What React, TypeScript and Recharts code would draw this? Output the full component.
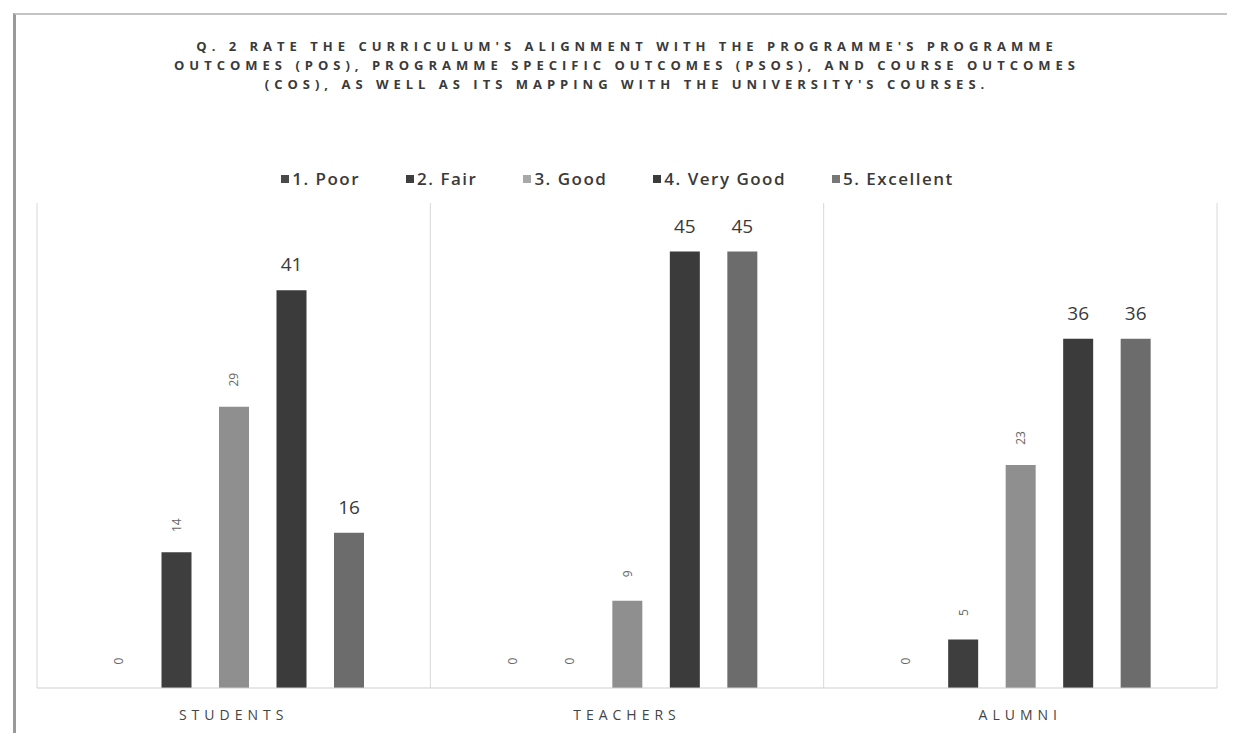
import React from 'react';
import { BarChart, Bar, XAxis, YAxis, CartesianGrid, Legend, LabelList } from 'recharts';

const categories = ['STUDENTS', 'TEACHERS', 'ALUMNI'];
const poor = [0, 0, 0];
const fair = [14, 0, 5];
const good = [29, 9, 23];
const veryGood = [41, 45, 36];
const excellent = [16, 45, 36];

const seriesNames = ['1. Poor', '2. Fair', '3. Good', '4. Very Good', '5. Excellent'];
const seriesKeys = ['poor', 'fair', 'good', 'veryGood', 'excellent'];
const seriesColors = ['#4a4a4a', '#3e3e3e', '#8f8f8f', '#3b3b3b', '#6c6c6c'];
const legendColors = ['#4a4a4a', '#3e3e3e', '#a8a8a8', '#3b3b3b', '#777777'];
// small rotated labels for the first three series, big ones for the last two
const bigLabel = [false, false, false, true, true];

const titleLines = [
  "Q. 2  RATE THE CURRICULUM'S ALIGNMENT WITH THE PROGRAMME'S PROGRAMME",
  'OUTCOMES (POS), PROGRAMME SPECIFIC OUTCOMES (PSOS), AND COURSE OUTCOMES',
  "(COS), AS WELL AS ITS MAPPING WITH THE UNIVERSITY'S COURSES.",
];

const data = categories.map((name, i) => ({
  name,
  poor: poor[i],
  fair: fair[i],
  good: good[i],
  veryGood: veryGood[i],
  excellent: excellent[i],
}));

const font = '"Open Sans", "Liberation Sans", sans-serif';

function SmallLabel(props: any) {
  const { x, y, width, value } = props;
  const cx = x + width / 2;
  const cy = y - 27;
  return (
    <text
      x={cx}
      y={cy}
      transform={`rotate(-90 ${cx} ${cy})`}
      textAnchor="middle"
      dominantBaseline="central"
      fontSize={12}
      fontFamily={font}
      fill="#666"
    >
      {value}
    </text>
  );
}

function LegendContent() {
  return (
    <div style={{ display: 'flex', justifyContent: 'center', gap: 46, fontFamily: font }}>
      {seriesNames.map((n, i) => (
        <div
          key={n}
          style={{ display: 'flex', alignItems: 'center', fontSize: 17, fontWeight: 600, letterSpacing: 1.5, color: '#3a3a3a' }}
        >
          <span style={{ width: 8, height: 8, background: legendColors[i], marginRight: 3, display: 'inline-block' }} />
          {n}
        </div>
      ))}
    </div>
  );
}

export default function App() {
  return (
    <div style={{ position: 'relative', width: 1219, height: 725, background: '#fff' }}>
      <div
        style={{
          position: 'absolute',
          left: 5,
          top: 5,
          width: 1222,
          height: 725,
          borderTop: '2px solid #c4c4c4',
          borderLeft: '3px solid #9a9a9a',
          borderBottom: '2px solid #b0b0b0',
          boxSizing: 'border-box',
        }}
      />
      <div
        style={{
          position: 'absolute',
          top: 29,
          left: 29,
          width: 1180,
          textAlign: 'center',
          fontFamily: font,
          fontWeight: 700,
          fontSize: 13,
          lineHeight: '19px',
          letterSpacing: 5,
          color: '#3a3a3a',
        }}
      >
        {titleLines.map((l) => (
          <div key={l}>{l}</div>
        ))}
      </div>
      <BarChart
        width={1219}
        height={725}
        data={data}
        margin={{ top: 195, right: 10, bottom: 15, left: 29 }}
        barSize={30}
        barGap={27.5}
      >
        <CartesianGrid
          horizontal={false}
          stroke="#d8d8d8"
          verticalCoordinatesGenerator={({ offset }: any) =>
            [0, 1, 2, 3].map((i) => offset.left + (offset.width * i) / categories.length)
          }
        />
        <XAxis
          dataKey="name"
          tickLine={false}
          tickSize={0}
          tickMargin={22}
          axisLine={{ stroke: '#cfcfcf' }}
          tick={{ fontSize: 14, fontFamily: font, fill: '#444', letterSpacing: 5 }}
        />
        <YAxis hide domain={[0, 50]} />
        <Legend
          verticalAlign="middle"
          layout="horizontal"
          align="center"
          wrapperStyle={{ top: 159, left: 0, width: 1219 }}
          content={<LegendContent />}
        />
        {seriesKeys.map((k, i) => (
          <Bar
            key={k}
            dataKey={k}
            name={seriesNames[i]}
            fill={seriesColors[i]}
            minPointSize={0.01}
            isAnimationActive={false}
          >
            {bigLabel[i] ? (
              <LabelList
                dataKey={k}
                position="top"
                offset={19}
                style={{ fontSize: 19, fontFamily: font, fill: '#3a3a3a' }}
              />
            ) : (
              <LabelList dataKey={k} content={<SmallLabel />} />
            )}
          </Bar>
        ))}
      </BarChart>
    </div>
  );
}
